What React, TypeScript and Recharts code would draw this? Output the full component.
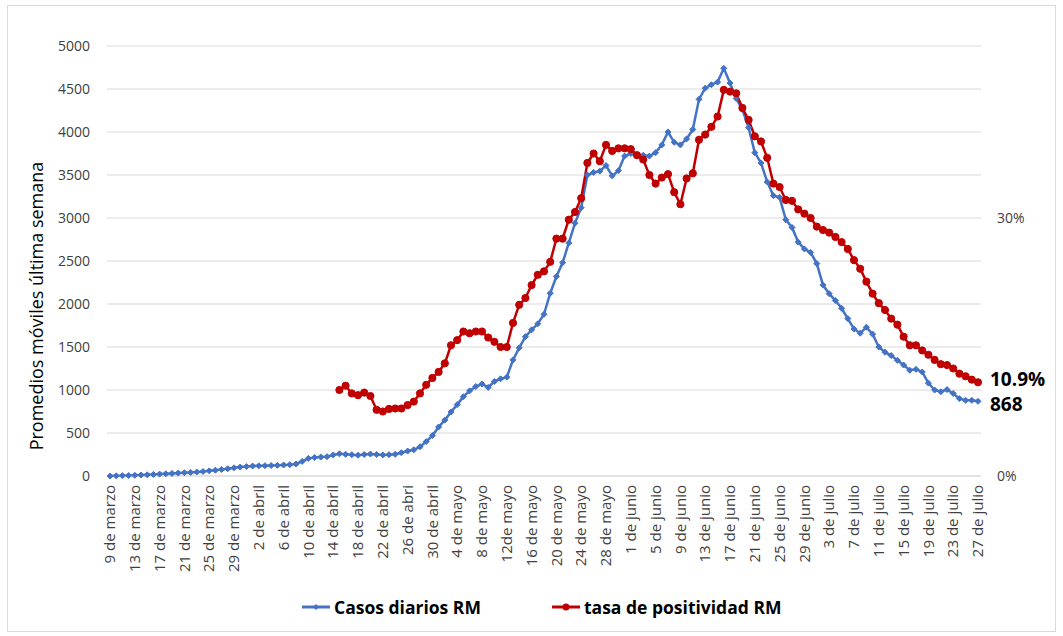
import { CartesianGrid, Line, LineChart, XAxis, YAxis } from "recharts";

// [mes, primer día, último día] del período graficado
const meses: [string, number, number][] = [
  ["marzo", 9, 31],
  ["abril", 1, 30],
  ["mayo", 1, 31],
  ["junio", 1, 30],
  ["julio", 1, 27],
];

const fechas = meses.flatMap(([mes, desde, hasta]) =>
  Array.from({ length: hasta - desde + 1 }, (_, i) => `${desde + i} de ${mes}`)
);

// rótulos del eje X tal como aparecen (uno cada 4 días)
const etiquetasX = [
  "9 de marzo", "13 de marzo", "17 de marzo", "21 de marzo", "25 de marzo", "29 de marzo",
  "2 de abril", "6 de abril", "10 de abril", "14 de abril", "18 de abril", "22 de abril",
  "26 de abri", "30 de abril", "4 de mayo", "8 de mayo", "12de mayo", "16 de mayo",
  "20 de mayo", "24 de mayo", "28 de mayo", "1 de junio", "5 de junio", "9 de junio",
  "13 de junio", "17 de junio", "21 de junio", "25 de junio", "29 de junio", "3 de julio",
  "7 de julio", "11 de julio", "15 de julio", "19 de julio", "23 de julio", "27 de julio",
];

const casosDiarios = [
  0, 2, 4, 6, 8, 11, 14, 18, 22, 26,
  30, 34, 38, 42, 46, 52, 60, 68, 76, 85,
  95, 104, 110, 116, 118, 120, 122, 124, 128, 132,
  140, 170, 205, 215, 220, 225, 245, 258, 252, 248,
  242, 250, 255, 250, 245, 248, 252, 270, 290, 305,
  340, 400, 470, 570, 650, 745, 830, 922, 990, 1040,
  1070, 1030, 1100, 1130, 1150, 1350, 1490, 1620, 1700, 1770,
  1880, 2125, 2320, 2480, 2710, 2940, 3120, 3500, 3530, 3545,
  3610, 3490, 3550, 3720, 3750, 3725, 3730, 3720, 3760, 3850,
  4000, 3880, 3850, 3920, 4030, 4380, 4510, 4550, 4580, 4740,
  4570, 4390, 4260, 4050, 3760, 3640, 3420, 3260, 3240, 2980,
  2890, 2720, 2640, 2600, 2470, 2220, 2120, 2040, 1950, 1830,
  1710, 1660, 1730, 1650, 1500, 1440, 1400, 1345, 1290, 1230,
  1240, 1210, 1080, 1000, 980, 1005, 960, 900, 880, 880,
  868,
];

// la tasa de positividad empieza el 15 de abril
const diasSinPositividad = 37;
const tasaPositividad: (number | null)[] = Array(diasSinPositividad).fill(null).concat([
  10.0, 10.5, 9.6, 9.4, 9.7, 9.3, 7.7, 7.5, 7.8, 7.85,
  7.85, 8.25, 8.65, 9.6, 10.6, 11.4, 12.1, 13.1, 15.2, 15.8,
  16.8, 16.6, 16.8, 16.8, 16.1, 15.6, 15.0, 15.0, 17.8, 19.9,
  20.7, 22.2, 23.4, 23.8, 24.9, 27.6, 27.6, 29.8, 30.7, 32.3,
  36.4, 37.5, 36.6, 38.5, 37.8, 38.1, 38.1, 38.0, 37.3, 36.8,
  35.0, 34.0, 34.7, 35.1, 33.0, 31.6, 34.6, 35.2, 39.1, 39.7,
  40.6, 41.8, 44.9, 44.7, 44.5, 42.8, 41.4, 39.5, 38.9, 37.0,
  34.0, 33.6, 32.1, 32.0, 31.0, 30.5, 30.0, 29.0, 28.6, 28.3,
  27.8, 27.2, 26.4, 25.1, 24.1, 22.6, 21.2, 20.1, 19.3, 18.3,
  17.6, 16.2, 15.2, 15.2, 14.6, 14.1, 13.5, 13.0, 12.9, 12.5,
  11.9, 11.6, 11.2, 10.9,
]);

const ticksCasos = [0, 500, 1000, 1500, 2000, 2500, 3000, 3500, 4000, 4500, 5000];
const ticksTasa = [0, 30];

const AZUL = "#4472C4";
const ROJO = "#C00000";
const FUENTE = "'Open Sans', 'Noto Sans', sans-serif";

const data = fechas.map((fecha, i) => ({
  fecha,
  casos: casosDiarios[i],
  tasa: tasaPositividad[i],
}));

function FechaTick({ x, y, payload }: any) {
  const i = fechas.indexOf(payload.value);
  if (i % 4 !== 0) return null;
  const ty = y + 1;
  return (
    <text
      x={x}
      y={ty}
      dy="0.35em"
      transform={`rotate(-90, ${x}, ${ty})`}
      textAnchor="end"
      fontSize={15}
      fill="#404040"
    >
      {etiquetasX[i / 4]}
    </text>
  );
}

function Rombo({ cx, cy, index }: any) {
  if (cx == null || cy == null) return <g key={`r-${index}`} />;
  const s = 3;
  return (
    <path
      key={`r-${index}`}
      d={`M${cx},${cy - s} L${cx + s},${cy} L${cx},${cy + s} L${cx - s},${cy} Z`}
      fill={AZUL}
      stroke={AZUL}
      strokeWidth={1}
    />
  );
}

function Punto({ cx, cy, index }: any) {
  if (cx == null || cy == null) return <g key={`p-${index}`} />;
  return <circle key={`p-${index}`} cx={cx} cy={cy} r={3.6} fill={ROJO} stroke={ROJO} />;
}

// rótulo al final de cada serie; desplazamiento vertical para que no se toquen
const etiquetaFinal = (texto: string, desplazamiento: number) => (props: any) => {
  if (props.index !== fechas.length - 1) return null;
  return (
    <text
      key="fin"
      x={props.x + 12}
      y={props.y + desplazamiento}
      dy="0.35em"
      fontSize={19}
      fontWeight="bold"
      fill="#000"
    >
      {texto}
    </text>
  );
};

function TituloEje() {
  return (
    <text
      x={37}
      y={306}
      transform="rotate(-90, 37, 306)"
      textAnchor="middle"
      dy="0.35em"
      fontSize={18}
      fill="#000"
    >
      Promedios móviles última semana
    </text>
  );
}

function IconoLeyenda({ color, circulo }: { color: string; circulo: boolean }) {
  return (
    <svg width={28} height={12} style={{ display: "block" }}>
      <line x1={0} y1={6} x2={28} y2={6} stroke={color} strokeWidth={3} />
      {circulo ? (
        <circle cx={14} cy={6} r={3.5} fill={color} />
      ) : (
        <path d="M14,3 L17,6 L14,9 L11,6 Z" fill={color} />
      )}
    </svg>
  );
}

const estiloLeyenda = {
  position: "absolute" as const,
  top: 595,
  display: "flex",
  alignItems: "center",
  gap: 4,
  fontSize: 17.5,
  fontWeight: "bold" as const,
  color: "#000",
  whiteSpace: "nowrap" as const,
};

export default function App() {
  return (
    <div
      style={{
        position: "absolute",
        left: 0,
        top: 0,
        width: 1063,
        height: 636,
        background: "#fff",
        fontFamily: FUENTE,
      }}
    >
      <div
        style={{
          position: "absolute",
          left: 7,
          top: 5,
          width: 1049,
          height: 627,
          border: "1px solid #d9d9d9",
          boxSizing: "border-box",
        }}
      />
      <div style={{ position: "absolute", left: 0, top: 0 }}>
        <LineChart
          width={1063}
          height={636}
          data={data}
          margin={{ top: 46, right: 0, bottom: 60, left: 0 }}
        >
          <CartesianGrid yAxisId="casos" vertical={false} stroke="#d9d9d9" strokeWidth={1} />
          <XAxis
            dataKey="fecha"
            interval={0}
            tick={<FechaTick />}
            tickLine={false}
            axisLine={{ stroke: "#d9d9d9" }}
            height={100}
            padding={{ left: 3, right: 3 }}
          />
          <YAxis
            yAxisId="casos"
            domain={[0, 5000]}
            ticks={ticksCasos}
            width={107}
            tickLine={false}
            axisLine={false}
            tickMargin={11}
            tick={{ fontSize: 14, fill: "#404040" }}
            label={TituloEje}
          />
          <YAxis
            yAxisId="tasa"
            orientation="right"
            domain={[0, 50]}
            ticks={ticksTasa}
            tickFormatter={(v: number) => `${v}%`}
            width={82}
            tickLine={false}
            axisLine={false}
            tickMargin={10}
            tick={{ fontSize: 14, fill: "#404040" }}
          />
          <Line
            yAxisId="casos"
            dataKey="casos"
            name="Casos diarios RM"
            stroke={AZUL}
            strokeWidth={2.5}
            dot={Rombo}
            activeDot={false}
            label={etiquetaFinal("868", 3)}
            isAnimationActive={false}
          />
          <Line
            yAxisId="tasa"
            dataKey="tasa"
            name="tasa de positividad RM"
            stroke={ROJO}
            strokeWidth={2.5}
            dot={Punto}
            activeDot={false}
            label={etiquetaFinal("10.9%", -3)}
            isAnimationActive={false}
          />
        </LineChart>
      </div>
      <div style={{ ...estiloLeyenda, left: 302 }}>
        <IconoLeyenda color={AZUL} circulo={false} />
        <span>Casos diarios RM</span>
      </div>
      <div style={{ ...estiloLeyenda, left: 552 }}>
        <IconoLeyenda color={ROJO} circulo={true} />
        <span>tasa de positividad RM</span>
      </div>
    </div>
  );
}
